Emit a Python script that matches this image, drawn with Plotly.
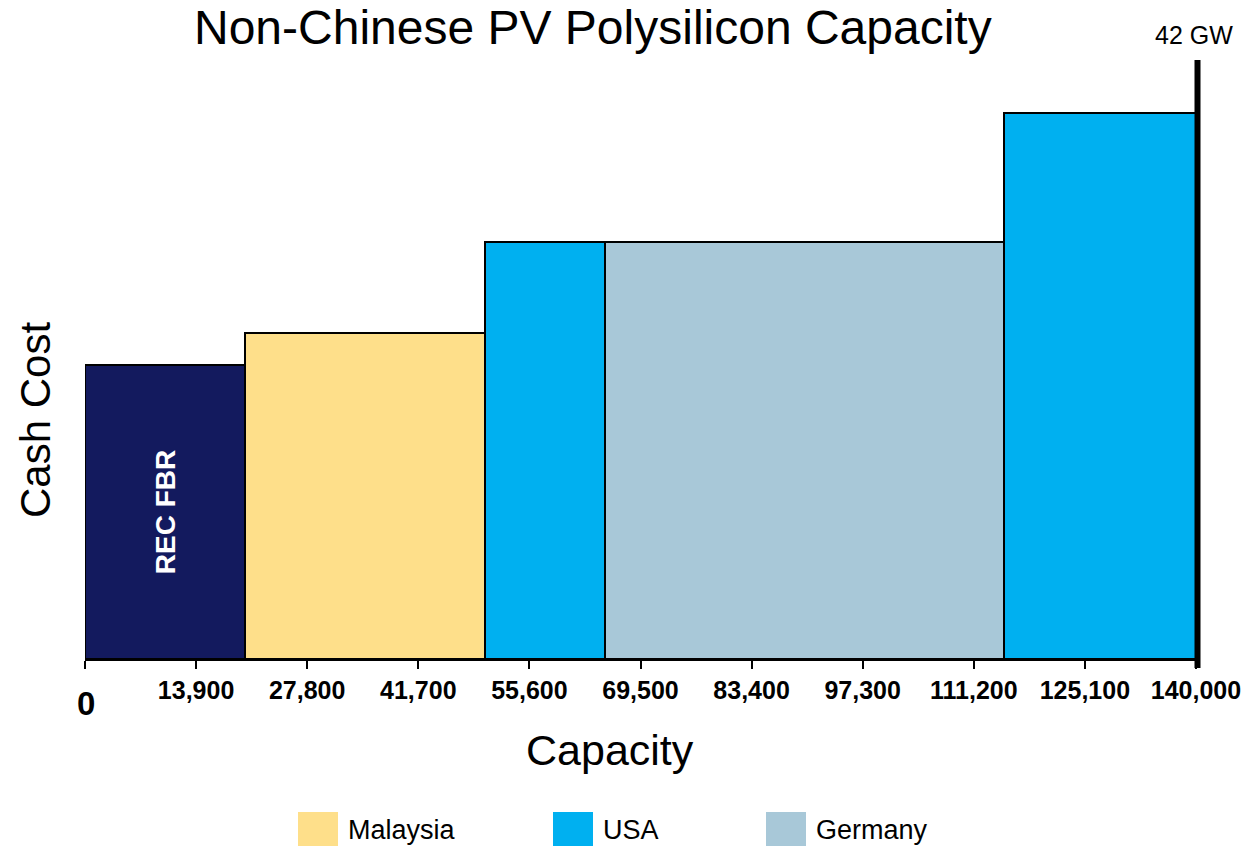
import plotly.graph_objects as go

# Capacity blocks (metric tons) and relative cash cost, in merit order
producers = ["REC FBR", "Malaysia", "USA", "Germany", "USA"]
capacity_t = [20000, 30000, 15000, 50000, 24000]
cash_cost = [49.1, 54.4, 69.6, 69.6, 91.2]
bar_colors = ["#131A5E", "#FEDF8A", "#00B0F0", "#A8C8D8", "#00B0F0"]
bar_text = ["REC FBR", "", "", "", ""]

tick_vals = [13900 * i for i in range(11)]
tick_text = ["", "13,900", "27,800", "41,700", "55,600", "69,500",
             "83,400", "97,300", "111,200", "125,100", "140,000"]

legend_names = ["Malaysia", "USA", "Germany"]
legend_colors = ["#FEDF8A", "#00B0F0", "#A8C8D8"]

starts = []
acc = 0
for w in capacity_t:
    starts.append(acc)
    acc += w
centers = [s + w / 2 for s, w in zip(starts, capacity_t)]
x_max = tick_vals[-1]

W, H = 1251, 847
L, R, T, B = 85, 55, 60, 188
pw, ph = W - L - R, H - T - B


def px(xp):
    return (xp - L) / pw


def py(yp):
    return (H - B - yp) / ph


FONT = "Liberation Sans"

fig = go.Figure()
fig.add_trace(go.Bar(
    x=centers, y=cash_cost, width=capacity_t,
    marker=dict(color=bar_colors, line=dict(color="black", width=2)),
    text=bar_text, textposition="inside", insidetextanchor="middle",
    textangle=-90,
    textfont=dict(family=FONT, size=28, color="white", weight="bold"),
    showlegend=False, hoverinfo="skip",
))

# Heavy marker at the end of the capacity axis
shapes = [
    dict(type="line", xref="paper", yref="paper", x0=1 + 1.5 / pw,
         x1=1 + 1.5 / pw, y0=-0.015, y1=1,
         line=dict(color="black", width=6)),
]


def label(text, xp, yp, size, **kw):
    d = dict(text=text, xref="paper", yref="paper", x=px(xp), y=py(yp),
             xanchor="center", yanchor="middle", showarrow=False,
             font=dict(family=FONT, size=size, color="black"))
    d.update(kw)
    return d


annotations = [
    label("Non-Chinese PV Polysilicon Capacity", 593, 28, 48),
    label("42 GW", 1194, 35, 25),
    label("Cash Cost", 35, 420, 42, textangle=-90),
    label("Capacity", 610, 750, 43),
    label("<b>0</b>", 86, 703, 33),
]

# Legend swatches and labels along the bottom
legend_x = [298, 553, 766]
for name, color, lx in zip(legend_names, legend_colors, legend_x):
    shapes.append(dict(type="rect", xref="paper", yref="paper",
                       x0=px(lx), x1=px(lx + 40), y0=py(846), y1=py(812),
                       fillcolor=color, line=dict(width=0)))
    annotations.append(label(name, lx + 48, 830, 27, xanchor="left"))

fig.update_layout(
    width=W, height=H,
    margin=dict(l=L, r=R, t=T, b=B),
    paper_bgcolor="white", plot_bgcolor="white",
    bargap=0,
    shapes=shapes, annotations=annotations,
    xaxis=dict(range=[0, x_max], tickmode="array", tickvals=tick_vals,
               ticktext=tick_text, showline=True, linecolor="black",
               linewidth=2, ticks="outside", ticklen=8, tickwidth=2,
               tickcolor="black", showgrid=False, zeroline=False,
               automargin=False,
               tickfont=dict(family=FONT, size=25, color="black",
                             weight="bold")),
    yaxis=dict(range=[0, 100], showline=False, showticklabels=False,
               ticks="", showgrid=False, zeroline=False, automargin=False),
)

fig.write_html("out.html")
